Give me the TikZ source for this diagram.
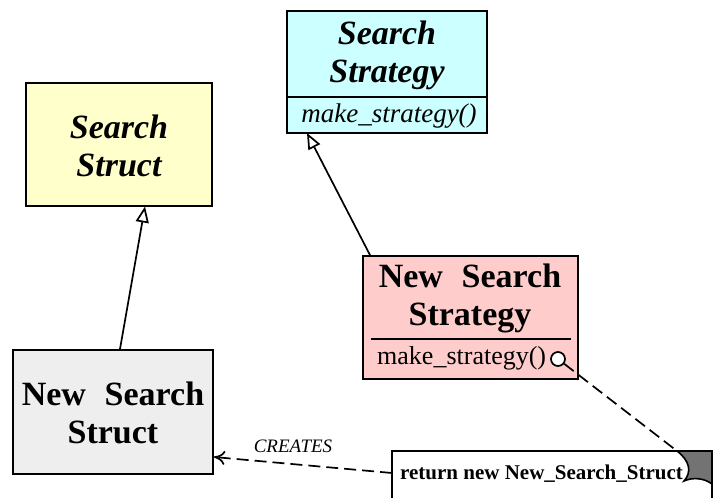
\documentclass[tikz,border=0pt]{standalone}
\usepackage{fontspec}
\setmainfont{Liberation Serif}
\usetikzlibrary{arrows.meta}

\definecolor{structyellow}{RGB}{255,255,204}
\definecolor{stratcyan}{RGB}{204,255,255}
\definecolor{newpink}{RGB}{255,204,204}
\definecolor{newgray}{RGB}{238,238,238}

\tikzset{
  classbox/.style={draw=black, line width=1.9pt, inner sep=0pt},
  classtitle/.style={align=center, inner sep=0pt, font=\fontsize{34}{38}\selectfont\bfseries},
  methodtext/.style={inner sep=0pt, font=\fontsize{26}{30}\selectfont},
  inherits/.style={line width=1.7pt, -{Triangle[open, length=16pt, width=13pt, line width=1.7pt]}},
  notelink/.style={line width=1.7pt, dash pattern=on 12pt off 6pt},
}

\begin{document}
\begin{tikzpicture}[x=1pt,y=1pt,yscale=-1,xscale=1]
\useasboundingbox (0,0) rectangle (713,498);
\clip (0,0) rectangle (713,498);

%Shape: Rectangle [Search Struct]
\node[classbox, fill=structyellow, minimum width=186pt, minimum height=123pt] (searchstruct) at (119,144.5) {};
\node[classtitle] (searchstructname) at (119,146) {\itshape Search\\\itshape Struct};

%Shape: Rectangle [Search Strategy]
\node[classbox, fill=stratcyan, minimum width=200pt, minimum height=122pt] (searchstrat) at (387,72) {};
\draw [line width=1.9pt] (287,97) -- (487,97) ;
\node[classtitle] (searchstratname) at (387,55) {\itshape Search\\\itshape Strategy};
\node[methodtext, font=\fontsize{27}{30}\selectfont\itshape] (searchstratop) at (389,116) {make\_strategy()};

%Shape: Rectangle [New Search Strategy]
\node[classbox, fill=newpink, minimum width=215pt, minimum height=123pt] (newstrat) at (470.5,317.5) {};
\draw [line width=1.9pt] (371,339) -- (571,339) ;
\node[classtitle] (newstratname) at (470,298) {New\hspace{0.3em} Search\\Strategy};
\node[methodtext, anchor=west] (newstratop) at (377,358) {make\_strategy()};
\node[circle, draw, line width=1.7pt, fill=white, minimum size=14pt, inner sep=0pt] (opnote) at (558,359) {};

%Shape: Rectangle [New Search Struct]
\node[classbox, fill=newgray, minimum width=200pt, minimum height=124pt] (newstruct) at (113,412) {};
\node[classtitle] (newstructname) at (113,413) {New\hspace{0.3em} Search\\Struct};

%Shape: Note
\coordinate (notecorner) at (677,451);
\coordinate (notewest) at (392,473);
\draw [line width=1.9pt, fill=white] (392,505) -- (392,451) -- (712,451) -- (712,505) ;
\fill [black!55] (677,451) -- (712,451) -- (712,484) .. controls (704,478) and (693,477) .. (684,481) .. controls (692,472) and (690,461) .. (677,451) -- cycle ;
\draw [line width=1.6pt] (712,484) .. controls (704,478) and (693,477) .. (684,481) .. controls (692,472) and (690,461) .. (677,451) ;
\draw [line width=1.9pt] (677,451) -- (712,451) -- (712,505) ;
\node[inner sep=0pt, anchor=west, font=\fontsize{21}{24}\selectfont\bfseries] (notetext) at (400,474) {return new New\_Search\_Struct};

%Straight Lines [inheritance]
\draw [inherits] (newstruct.north -| 120,0) -- (145,206.5) ;
\draw [inherits] (newstrat.north -| 370,0) -- (307,133) ;

%Straight Lines [note links]
\draw [notelink] (opnote) -- (notecorner) ;
\draw [notelink, -{To[length=11pt, width=14pt, line width=1.7pt]}] (notewest) -- (newstruct.east |- 0,457) ;
\node[inner sep=0pt, font=\fontsize{19}{22}\selectfont\itshape] (createslabel) at (293,446) {CREATES};

\end{tikzpicture}
\end{document}
